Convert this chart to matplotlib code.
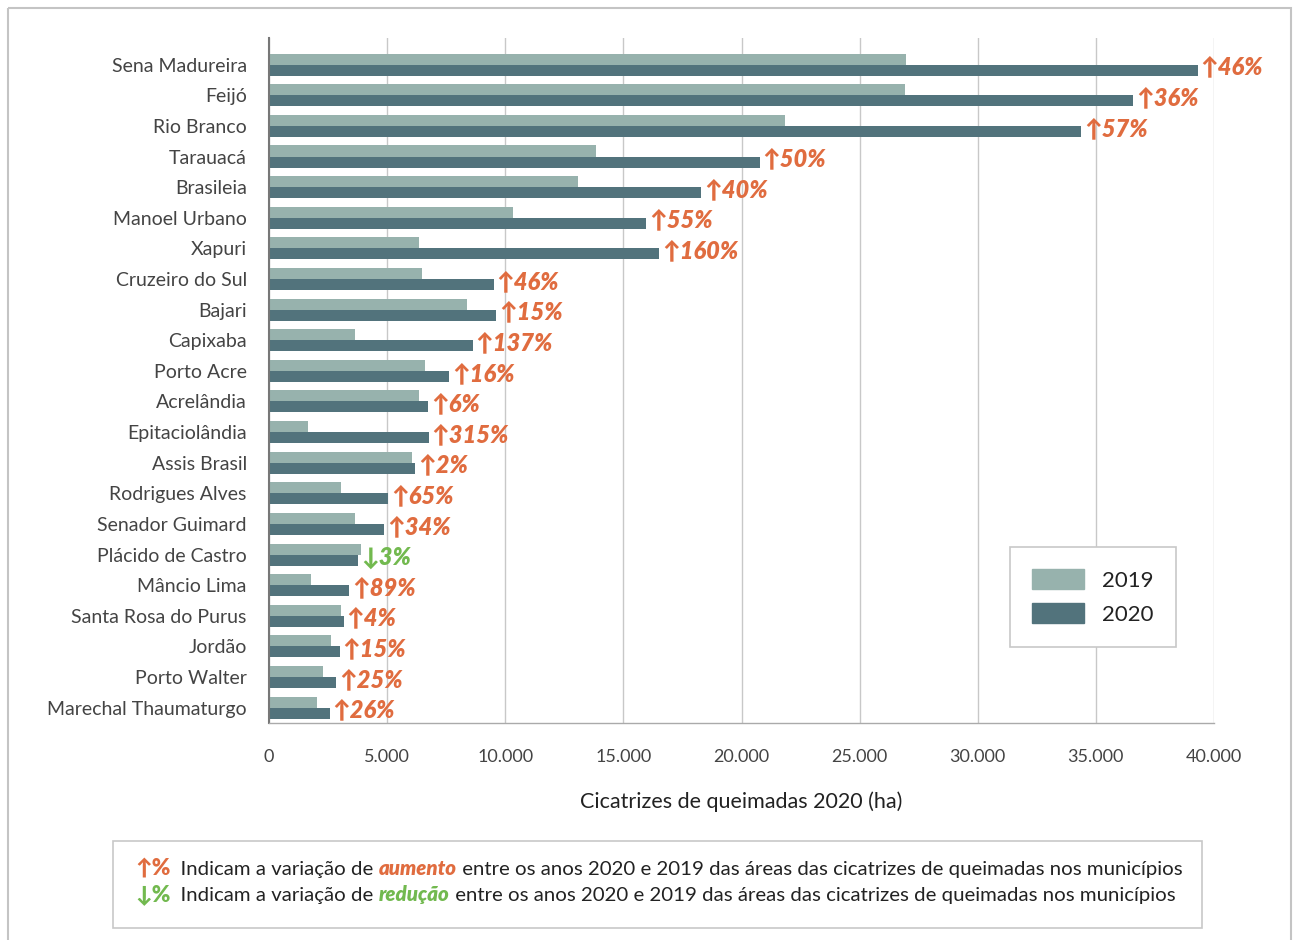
import matplotlib
matplotlib.use("Agg")
import matplotlib.pyplot as plt
from matplotlib.patches import Rectangle, Patch

# dados (ha)
municipios = [
    "Sena Madureira", "Feijó", "Rio Branco", "Tarauacá", "Brasileia",
    "Manoel Urbano", "Xapuri", "Cruzeiro do Sul", "Bajari", "Capixaba",
    "Porto Acre", "Acrelândia", "Epitaciolândia", "Assis Brasil",
    "Rodrigues Alves", "Senador Guimard", "Plácido de Castro", "Mâncio Lima",
    "Santa Rosa do Purus", "Jordão", "Porto Walter", "Marechal Thaumaturgo",
]
area_2019 = [26960, 26900, 21840, 13840, 13080, 10330, 6340, 6480, 8380, 3640,
             6600, 6350, 1630, 6060, 3050, 3640, 3880, 1780, 3050, 2620, 2270, 2050]
area_2020 = [39320, 36570, 34370, 20780, 18290, 15960, 16510, 9520, 9610, 8630,
             7620, 6730, 6770, 6180, 5040, 4870, 3770, 3390, 3170, 3000, 2840, 2580]
variacao = [46, 36, 57, 50, 40, 55, 160, 46, 15, 137, 16, 6, 315, 2, 65, 34,
            -3, 89, 4, 15, 25, 26]
ticks_x = [0, 5000, 10000, 15000, 20000, 25000, 30000, 35000, 40000]
ticks_x_labels = ["0", "5.000", "10.000", "15.000", "20.000", "25.000",
                  "30.000", "35.000", "40.000"]

COR_2019 = "#97b2ad"
COR_2020 = "#52737c"
LARANJA = "#e06c3f"
VERDE = "#72b94f"
FONTE = ["Lato", "DejaVu Sans"]

plt.rcParams["font.family"] = FONTE

W, H = 1293, 940
fig = plt.figure(figsize=(W / 100, H / 100), dpi=100)

# camada de fundo em pixels (molduras e nota)
bg = fig.add_axes([0, 0, 1, 1])
bg.set_xlim(0, W)
bg.set_ylim(H, 0)
bg.axis("off")
bg.add_patch(Rectangle((8, 8), W - 10, H, fill=False, edgecolor="#c4c4c4", lw=1.5))
bg.add_patch(Rectangle((113, 841), 1089, 87, fill=False, edgecolor="#c8c8c8", lw=1.2))

ax = fig.add_axes([269 / W, 1 - 723 / H, 945 / W, 685 / H])

y = list(range(len(municipios)))
alt = 0.36
ax.barh([i - alt / 2 for i in y], area_2019, height=alt, color=COR_2019, label="2019", zorder=2)
ax.barh([i + alt / 2 for i in y], area_2020, height=alt, color=COR_2020, label="2020", zorder=2)

for i, (v, pct) in enumerate(zip(area_2020, variacao)):
    if pct >= 0:
        txt, cor = f"↑{pct}%", LARANJA
    else:
        txt, cor = f"↓{abs(pct)}%", VERDE
    ax.annotate(txt, xy=(v, i + 0.08), xytext=(2, 0), textcoords="offset points",
                ha="left", va="center", fontsize=17, fontweight="heavy",
                fontstyle="italic", color=cor, zorder=3)

ax.set_xlim(0, 40000)
ax.set_ylim(len(municipios) - 0.5, -0.87)
ax.set_xticks(ticks_x)
ax.set_xticklabels(ticks_x_labels)
ax.set_yticks(y)
ax.set_yticklabels(municipios)
ax.tick_params(axis="y", length=0, pad=16, labelsize=14, labelcolor="#444444")
ax.tick_params(axis="x", length=0, pad=19, labelsize=13, labelcolor="#444444")

ax.grid(axis="x", color="#c8c8c8", lw=1, zorder=0)
ax.set_axisbelow(True)
for s in ["top", "right"]:
    ax.spines[s].set_visible(False)
ax.spines["left"].set_color("#777777")
ax.spines["left"].set_linewidth(1.5)
ax.spines["bottom"].set_color("#aaaaaa")
ax.spines["bottom"].set_linewidth(1)

ax.set_xlabel("Cicatrizes de queimadas 2020 (ha)", fontsize=15.5, color="#222222", labelpad=19)

leg = ax.legend(handles=[Patch(color=COR_2019, label="2019"), Patch(color=COR_2020, label="2020")],
                loc="upper left", bbox_to_anchor=(1010 / W, 1 - 547 / H),
                bbox_transform=fig.transFigure, fontsize=16, frameon=True,
                fancybox=False, edgecolor="#c8c8c8", framealpha=1,
                borderaxespad=0, borderpad=1.0, handlelength=2.35, handleheight=1.0,
                labelspacing=0.55, handletextpad=0.8)
leg.get_frame().set_linewidth(1.2)
for t in leg.get_texts():
    t.set_color("#222222")

# nota de rodapé com trechos coloridos
renderer = fig.canvas.get_renderer()


def linha(ypos, partes):
    x = 135
    for s, kw in partes:
        opts = {"fontsize": 14.7}
        opts.update(kw)
        t = bg.text(x, ypos, s, va="baseline", ha="left", **opts)
        x = t.get_window_extent(renderer).x1


base = {"color": "#222222"}
resto = " entre os anos 2020 e 2019 das áreas das cicatrizes de queimadas nos municípios"
linha(875, [("↑%", {"color": LARANJA, "fontweight": "heavy", "fontsize": 16}),
            ("  Indicam a variação de ", base),
            ("aumento", {"color": LARANJA, "fontweight": "heavy", "fontstyle": "italic"}),
            (resto, base)])
linha(901, [("↓%", {"color": VERDE, "fontweight": "heavy", "fontsize": 16}),
            ("  Indicam a variação de ", base),
            ("redução", {"color": VERDE, "fontweight": "heavy", "fontstyle": "italic"}),
            (resto, base)])

fig.savefig("out.png", dpi=100)
